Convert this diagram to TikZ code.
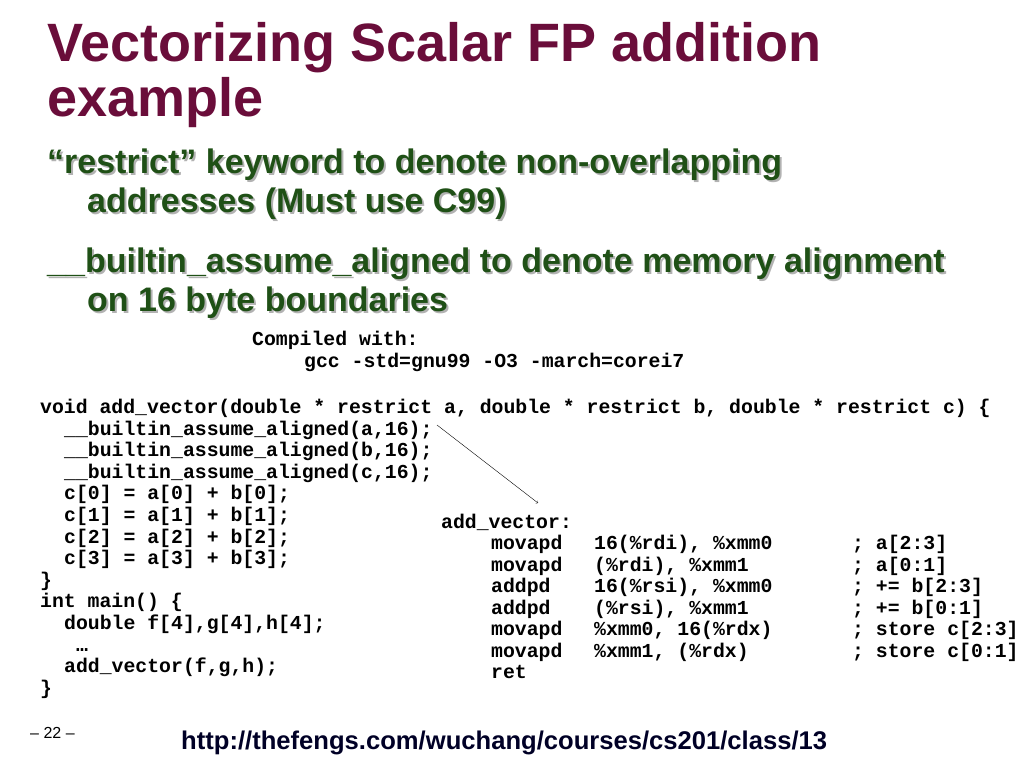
\documentclass[tikz,border=0pt]{standalone}
\usepackage{fontspec}
\setmainfont{Liberation Sans}
\newfontfamily\codefont{Liberation Mono}
\usetikzlibrary{positioning}
\definecolor{titlered}{HTML}{6A0D3A}
\definecolor{bulletgreen}{HTML}{1F5016}

\tikzset{
  titletext/.style={anchor=base west, inner sep=0, font=\fontsize{54}{56}\selectfont\bfseries, text=titlered},
  bullettext/.style={anchor=base west, inner sep=0, font=\fontsize{34}{36}\selectfont\bfseries, text=bulletgreen},
  bulletshadow/.style={anchor=base west, inner sep=0, font=\fontsize{34}{36}\selectfont\bfseries, text=black!30},
  codeline/.style={anchor=base west, inner sep=0, font=\codefont\bfseries\fontsize{19.8}{21}\selectfont}
}

\begin{document}
\begin{tikzpicture}[x=1pt, y=-1pt]
    \useasboundingbox (0,0) rectangle (1024,768);

    % Title
    \node[titletext] (T1) at (47,61) {Vectorizing Scalar FP addition};
    \node[titletext] (T2) at (47,116) {example};

    % Bullets (with shadow)
    \node[bulletshadow] at (49,175) {“restrict” keyword to denote non-overlapping};
    \node[bullettext] (B1) at (47,173) {“restrict” keyword to denote non-overlapping};
    \node[bulletshadow] at (89,214) {addresses (Must use C99)};
    \node[bullettext] (B2) at (87,212) {addresses (Must use C99)};
    \node[bulletshadow] at (49,274) {\_\_builtin\_assume\_aligned to denote memory alignment};
    \node[bullettext] (B3) at (47,272) {\_\_builtin\_assume\_aligned to denote memory alignment};
    \node[bulletshadow] at (89,313) {on 16 byte boundaries};
    \node[bullettext] (B4) at (87,311) {on 16 byte boundaries};

    % Compiler note
    \node[codeline] (C1) at (252,345) {Compiled with:};
    \node[codeline] (C2) at (304,367) {gcc -std=gnu99 -O3 -march=corei7};

    % C source
    \node[codeline] (L1) at (40,413) {void add\_vector(double * restrict a, double * restrict b, double * restrict c) \{};
    \node[codeline] (L2) at (64,435) {\_\_builtin\_assume\_aligned(a,16);};
    \node[codeline] (L3) at (64,456) {\_\_builtin\_assume\_aligned(b,16);};
    \node[codeline] (L4) at (64,478) {\_\_builtin\_assume\_aligned(c,16);};
    \node[codeline] (L5) at (64,499) {c[0] = a[0] + b[0];};
    \node[codeline] (L6) at (64,521) {c[1] = a[1] + b[1];};
    \node[codeline] (L7) at (64,543) {c[2] = a[2] + b[2];};
    \node[codeline] (L8) at (64,564) {c[3] = a[3] + b[3];};
    \node[codeline] (L9) at (40,586) {\}};
    \node[codeline] (L10) at (40,607) {int main() \{};
    \node[codeline] (L11) at (64,629) {double f[4],g[4],h[4];};
    \node[codeline] (L12) at (76,651) {…};
    \node[codeline] (L13) at (64,672) {add\_vector(f,g,h);};
    \node[codeline] (L14) at (40,694) {\}};

    % Generated assembly
    \node[codeline] (A0) at (441,528) {add\_vector:};
    \foreach \op/\arg/\cmt [count=\i] in {
        movapd/{16(\%rdi), \%xmm0}/{; a[2:3]},
        movapd/{(\%rdi), \%xmm1}/{; a[0:1]},
        addpd/{16(\%rsi), \%xmm0}/{; += b[2:3]},
        addpd/{(\%rsi), \%xmm1}/{; += b[0:1]},
        movapd/{\%xmm0, 16(\%rdx)}/{; store c[2:3]},
        movapd/{\%xmm1, (\%rdx)}/{; store c[0:1]},
        ret/{}/{}} {
      \node[codeline] (O\i) at (491,528+21.5*\i) {\op};
      \node[codeline] (R\i) at (594,528+21.5*\i) {\arg};
      \node[codeline] (M\i) at (852,528+21.5*\i) {\cmt};
    }

    % Arrow from source to assembly
    \coordinate (P) at (437,425);
    \coordinate (Q) at (538,503);
    \draw[->, thin] (P) -- (Q);

    % Footer
    \node[anchor=base west, inner sep=0, font=\fontsize{16}{18}\selectfont] (N) at (30,738) {– 22 –};
    \node[anchor=base west, inner sep=0, font=\fontsize{25.6}{27}\selectfont\bfseries, text=black!85!blue] (U) at (181,749) {http://thefengs.com/wuchang/courses/cs201/class/13};
\end{tikzpicture}
\end{document}
